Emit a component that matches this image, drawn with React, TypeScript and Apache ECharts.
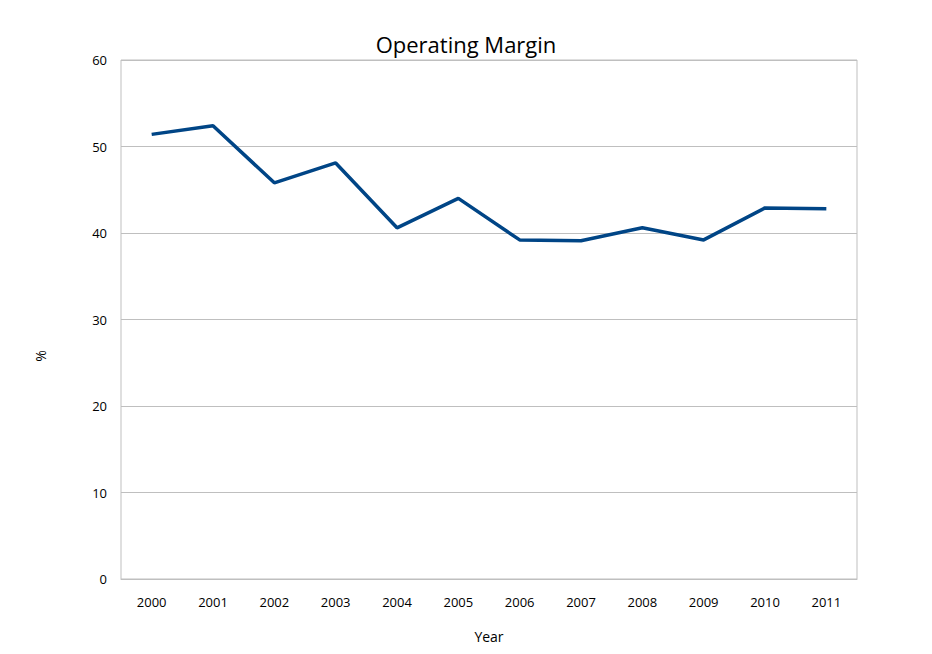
import * as echarts from "echarts"
import { useEffect, useRef } from "react"

const years = ["2000", "2001", "2002", "2003", "2004", "2005", "2006", "2007", "2008", "2009", "2010", "2011"]
const margin = [51.4, 52.4, 45.8, 48.1, 40.6, 44.0, 39.2, 39.1, 40.6, 39.2, 42.9, 42.8]

export default function App() {
  const ref = useRef<HTMLDivElement>(null)

  useEffect(() => {
    if (!ref.current) return
    const chart = echarts.init(ref.current, undefined, { renderer: "svg" })
    const font = "Open Sans, sans-serif"
    chart.setOption({
      animation: false,
      backgroundColor: "#fff",
      title: {
        text: "Operating Margin",
        left: "center",
        top: 28,
        textStyle: { fontFamily: font, fontSize: 22, fontWeight: "normal", color: "#000" },
      },
      grid: {
        left: 121, right: 75, top: 60, bottom: 75,
        show: true, borderColor: "#bfbfbf", borderWidth: 1,
      },
      graphic: [{
        type: "text",
        x: 40,
        y: 356,
        rotation: Math.PI / 2,
        style: { text: "%", fontFamily: font, fontSize: 14, fill: "#000", align: "center", verticalAlign: "middle" },
      }],
      xAxis: {
        type: "category",
        data: years,
        name: "Year",
        nameLocation: "middle",
        nameGap: 50,
        nameTextStyle: { fontFamily: font, fontSize: 14, color: "#000" },
        axisLine: { lineStyle: { color: "#bfbfbf" } },
        axisTick: { show: false },
        axisLabel: { fontFamily: font, fontSize: 13, color: "#000", margin: 16 },
      },
      yAxis: {
        type: "value",
        min: 0, max: 60, interval: 10,
        axisLine: { show: false },
        axisLabel: { fontFamily: font, fontSize: 13, color: "#000", margin: 14 },
        splitLine: { lineStyle: { color: "#bfbfbf" } },
      },
      series: [{
        type: "line",
        data: margin,
        symbol: "none",
        lineStyle: { color: "#004586", width: 3.5 },
      }],
    })
    return () => chart.dispose()
  }, [])

  return <div ref={ref} style={{ position: "fixed", top: 0, left: 0, width: 932, height: 654 }} />
}
